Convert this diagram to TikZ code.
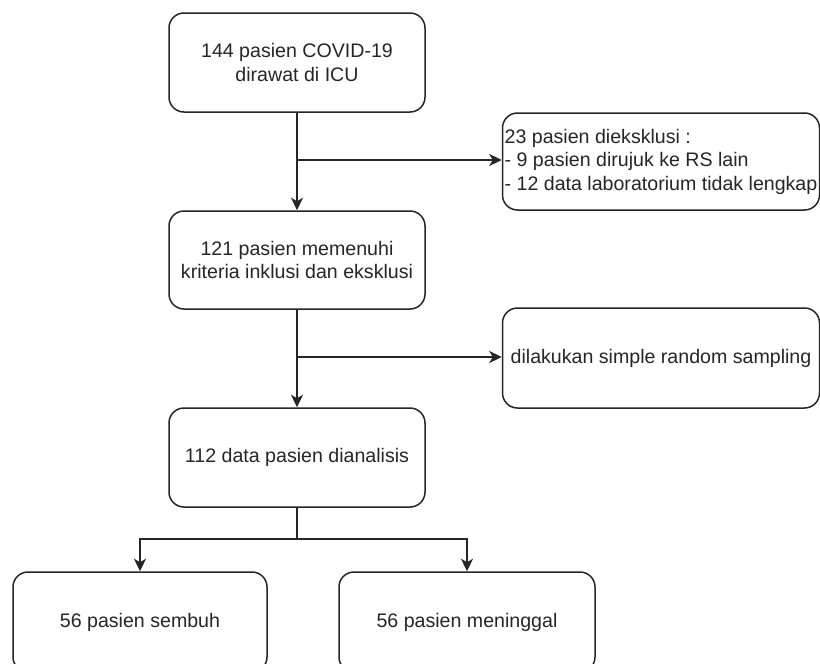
\documentclass[tikz,border=0pt]{standalone}
\usepackage{fontspec}
\setmainfont{Liberation Sans}
\usetikzlibrary{arrows.meta}
\begin{document}
\begin{tikzpicture}[x=1pt,y=-1pt,
  box/.style={draw=black!85, line width=1.5pt, rounded corners=15pt, fill=white,
    inner sep=0pt, font=\fontsize{19.6}{23.5}\selectfont, text=black!85},
  link/.style={draw=black!85, line width=1.5pt,
    -{Stealth[length=12.5pt,width=12pt,inset=3.5pt]}},
  plain/.style={draw=black!85, line width=1.5pt}]
\useasboundingbox (0,0) rectangle (820,664);
\clip (0,0) rectangle (820,664);
\fill[white] (0,0) rectangle (820,664);

% main column
\node[box, minimum width=256pt, minimum height=99pt, align=center] (icu) at (297,62.5)
  {144 pasien COVID-19\\dirawat di ICU};
\node[box, minimum width=256pt, minimum height=98pt, align=center] (inkl) at (297,260)
  {121 pasien memenuhi\\kriteria inklusi dan eksklusi};
\node[box, minimum width=256pt, minimum height=99pt, align=center] (anal) at (297,457.5)
  {112 data pasien dianalisis};

% side boxes
\node[box, minimum width=317pt, minimum height=97pt, align=left] (eks) at (661,161.5)
  {23 pasien dieksklusi :\\- 9 pasien dirujuk ke RS lain\\- 12 data laboratorium tidak lengkap};
\node[box, minimum width=317pt, minimum height=100pt] (srs) at (661,358)
  {dilakukan simple random sampling};

% outcome boxes
\node[box, minimum width=254pt, minimum height=100pt] (sembuh) at (140,622)
  {56 pasien sembuh};
\node[box, minimum width=256pt, minimum height=100pt] (mati) at (467,622)
  {56 pasien meninggal};

% connectors
\coordinate (j1) at (297,160);
\coordinate (j2) at (297,357);
\coordinate (j3) at (297,539);
\draw[link] (icu.south) -- (inkl.north);
\draw[link] (j1) -- (eks.west |- j1);
\draw[link] (inkl.south) -- (anal.north);
\draw[link] (j2) -- (srs.west |- j2);
\draw[plain] (anal.south) -- (j3);
\draw[link] (j3) -| (sembuh.north);
\draw[link] (j3) -| (mati.north);
\end{tikzpicture}
\end{document}
